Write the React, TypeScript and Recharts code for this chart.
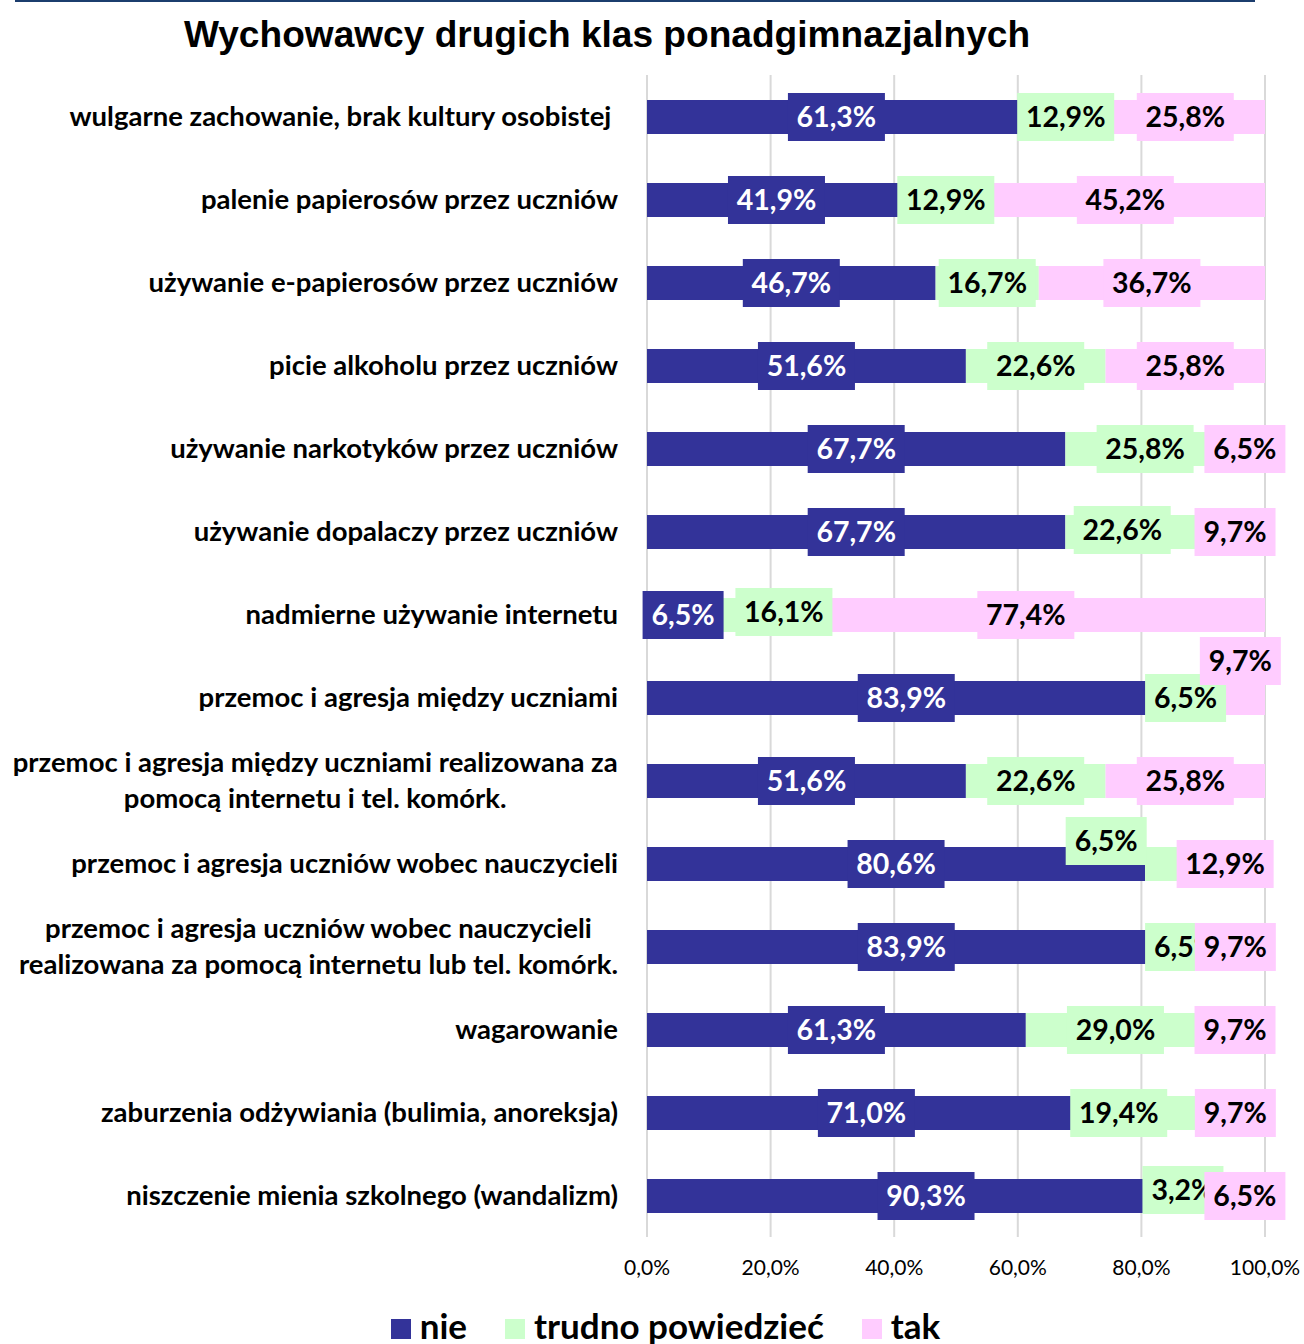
import React from 'react';
import { BarChart, Bar, XAxis, YAxis, CartesianGrid, LabelList } from 'recharts';

const TITLE = 'Wychowawcy drugich klas ponadgimnazjalnych';

const CATEGORIES = [
  'wulgarne zachowanie, brak kultury osobistej ',
  'palenie papierosów przez uczniów',
  'używanie e-papierosów przez uczniów',
  'picie alkoholu przez uczniów',
  'używanie narkotyków przez uczniów',
  'używanie dopalaczy przez uczniów',
  'nadmierne używanie internetu',
  'przemoc i agresja między uczniami',
  'przemoc i agresja między uczniami realizowana za pomocą internetu i tel. komórk.',
  'przemoc i agresja uczniów wobec nauczycieli',
  'przemoc i agresja uczniów wobec nauczycieli realizowana za pomocą internetu lub tel. komórk.',
  'wagarowanie',
  'zaburzenia odżywiania (bulimia, anoreksja)',
  'niszczenie mienia szkolnego (wandalizm)',
];

const NIE = [61.3, 41.9, 46.7, 51.6, 67.7, 67.7, 6.5, 83.9, 51.6, 80.6, 83.9, 61.3, 71.0, 90.3];
const TRUDNO = [12.9, 12.9, 16.7, 22.6, 25.8, 22.6, 16.1, 6.5, 22.6, 6.5, 6.5, 29.0, 19.4, 3.2];
const TAK = [25.8, 45.2, 36.7, 25.8, 6.5, 9.7, 77.4, 9.7, 25.8, 12.9, 9.7, 9.7, 9.7, 6.5];

const SERIES_NAMES = ['nie', 'trudno powiedzieć', 'tak'];
const X_TICKS = [0, 20, 40, 60, 80, 100];

const data = CATEGORIES.map((name, i) => ({ name, nie: NIE[i], trudno: TRUDNO[i], tak: TAK[i] }));

// styles
const SERIES_STYLE = [
  { key: 'nie', fill: '#333399', text: '#FFFFFF' },
  { key: 'trudno', fill: '#CCFFCC', text: '#000000' },
  { key: 'tak', fill: '#FFCCFF', text: '#000000' },
];

// manual label nudges (dx, dy) like in the original, keyed by series and row
const LABEL_NUDGE: Record<string, Record<number, [number, number]>> = {
  nie: { 6: [16, 0] },
  trudno: { 5: [-13, -2], 6: [47, -3], 9: [-59, -23], 12: [-27, 0], 13: [-32, -6] },
  tak: { 7: [5, -37] },
};

const W = 1304;
const H = 1344;
const MARGIN_TOP = 75;
const MARGIN_RIGHT = 39;
const Y_AXIS_W = 647;
const X_AXIS_H = 107;

const FONT = 'Lato, "Open Sans", sans-serif';
const CAT_FONT_SIZE = 27.5;
const LABEL_FONT_SIZE = 28.5;

const fmt = (v: number) => v.toFixed(1).replace('.', ',') + '%';

let ctx: CanvasRenderingContext2D | null = null;
const measure = (txt: string, font: string) => {
  if (!ctx) {
    const c = document.createElement('canvas');
    ctx = c.getContext('2d');
  }
  if (!ctx) return txt.length * 12;
  ctx.font = font;
  return ctx.measureText(txt).width;
};

const wrap = (s: string, maxChars: number) => {
  if (s.length <= maxChars) return [s];
  const words = s.split(' ');
  const lines: string[] = [];
  let cur = '';
  for (const w of words) {
    const next = cur ? cur + ' ' + w : w;
    if (next.length > maxChars && cur) {
      lines.push(cur);
      cur = w;
    } else cur = next;
  }
  if (cur) lines.push(cur);
  return lines;
};

const CategoryTick = (props: any) => {
  const { x, y, payload } = props;
  const lines = wrap(String(payload.value), 48);
  const common = {
    fontFamily: FONT,
    fontWeight: 700,
    fontSize: CAT_FONT_SIZE,
    fill: '#000',
  };
  if (lines.length === 1) {
    return (
      <text x={x} y={y + 9} textAnchor="end" style={{ whiteSpace: 'pre' }} {...common}>
        {lines[0]}
      </text>
    );
  }
  const font = `bold ${CAT_FONT_SIZE}px Lato`;
  const maxW = Math.max(...lines.map((l) => measure(l, font)));
  const cx = x - maxW / 2;
  const step = 36;
  const start = y + 9 - (step * (lines.length - 1)) / 2;
  return (
    <g>
      {lines.map((l, i) => (
        <text key={i} x={cx} y={start + i * step} textAnchor="middle" {...common}>
          {l}
        </text>
      ))}
    </g>
  );
};

const ValueTick = (props: any) => {
  const { x, y, payload } = props;
  return (
    <text x={x} y={y + 38} textAnchor="middle" fontFamily={FONT} fontSize={21} fill="#000">
      {fmt(Number(payload.value))}
    </text>
  );
};

const makeLabel = (key: string, fill: string, textColor: string) => (props: any) => {
  const vb = props.viewBox && props.viewBox.width !== undefined ? props.viewBox : props;
  const x = Number(vb.x);
  const y = Number(vb.y);
  const width = Number(vb.width);
  const height = Number(vb.height);
  const index = props.index;
  const value = Number(props.value);
  if (!isFinite(x) || !isFinite(value)) return null;
  const nudge = (LABEL_NUDGE[key] && LABEL_NUDGE[key][index]) || [0, 0];
  const cx = x + width / 2 + nudge[0];
  const cy = y + height / 2 + nudge[1];
  const txt = fmt(value);
  const bw = 16 * txt.length + 17;
  const bh = 48;
  return (
    <g>
      <rect x={cx - bw / 2} y={cy - bh / 2} width={bw} height={bh} fill={fill} />
      <text
        x={cx}
        y={cy + 10}
        textAnchor="middle"
        fontFamily={FONT}
        fontWeight={700}
        fontSize={LABEL_FONT_SIZE}
        fill={textColor}
      >
        {txt}
      </text>
    </g>
  );
};

export default function App() {
  return (
    <div
      style={{
        position: 'absolute',
        left: 0,
        top: 0,
        width: W,
        height: H,
        overflow: 'hidden',
        background: '#fff',
      }}
    >
      <svg width={W} height={70} style={{ position: 'absolute', left: 0, top: 0 }}>
        <rect x={15} y={0} width={1240} height={2} fill="#1B3D6D" />
        <text
          x={607}
          y={47}
          textAnchor="middle"
          fontFamily='"Liberation Sans", Arial, sans-serif'
          fontWeight={700}
          fontSize={37.1}
          fill="#000"
        >
          {TITLE}
        </text>
      </svg>

      <div style={{ position: 'absolute', left: 0, top: 0 }}>
        <BarChart
          width={W}
          height={H}
          data={data}
          layout="vertical"
          margin={{ top: MARGIN_TOP, right: MARGIN_RIGHT, bottom: 0, left: 0 }}
          barSize={34}
        >
          <CartesianGrid horizontal={false} vertical stroke="#D9D9D9" strokeWidth={2} />
          <XAxis
            type="number"
            domain={[0, 100]}
            ticks={X_TICKS}
            allowDataOverflow
            height={X_AXIS_H}
            axisLine={false}
            tickLine={false}
            tickSize={0}
            tickMargin={0}
            tick={<ValueTick />}
            interval={0}
          />
          <YAxis
            type="category"
            dataKey="name"
            width={Y_AXIS_W}
            axisLine={false}
            tickLine={false}
            tickSize={0}
            tickMargin={29}
            tick={<CategoryTick />}
            interval={0}
          />
          {SERIES_STYLE.map((s, i) => (
            <Bar
              key={s.key}
              dataKey={s.key}
              name={SERIES_NAMES[i]}
              stackId="a"
              fill={s.fill}
              isAnimationActive={false}
            />
          ))}
        </BarChart>
      </div>

      <div style={{ position: 'absolute', left: 0, top: 0 }}>
        <BarChart
          width={W}
          height={H}
          data={data}
          layout="vertical"
          margin={{ top: MARGIN_TOP, right: MARGIN_RIGHT, bottom: X_AXIS_H, left: Y_AXIS_W }}
          barSize={34}
        >
          <XAxis type="number" domain={[0, 100]} ticks={X_TICKS} allowDataOverflow hide />
          <YAxis type="category" dataKey="name" hide />
          {SERIES_STYLE.map((s, i) => (
            <Bar
              key={s.key}
              dataKey={s.key}
              name={SERIES_NAMES[i]}
              stackId="a"
              fill="transparent"
              isAnimationActive={false}
            >
              <LabelList dataKey={s.key} content={makeLabel(s.key, s.fill, s.text)} />
            </Bar>
          ))}
        </BarChart>
      </div>

      <div
        style={{
          position: 'absolute',
          left: 0,
          top: 1304,
          width: 1331,
          display: 'flex',
          justifyContent: 'center',
          alignItems: 'baseline',
          fontFamily: FONT,
          fontWeight: 700,
          fontSize: 35,
          lineHeight: '42px',
          color: '#000',
        }}
      >
        {SERIES_STYLE.map((s, i) => (
          <div
            key={s.key}
            style={{ display: 'flex', alignItems: 'baseline', marginRight: i < 2 ? 38 : 0 }}
          >
            <div style={{ width: 20, height: 20, background: s.fill, marginRight: 9 }} />
            <span>{SERIES_NAMES[i]}</span>
          </div>
        ))}
      </div>
    </div>
  );
}
